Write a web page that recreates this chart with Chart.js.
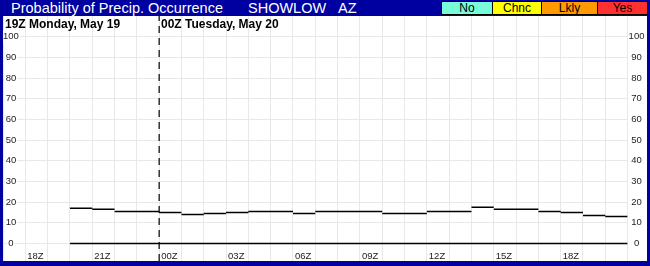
<!DOCTYPE html>
<html>
<head>
<meta charset="utf-8">
<script src="https://cdn.jsdelivr.net/npm/chart.js@4.4.1/dist/chart.umd.min.js"></script>
<style>
	body {
		margin: 0;
		width: 650px;
		height: 266px;
		background: #0000a0;
		position: relative;
		overflow: hidden;
		font-family: 'Liberation Sans', Arial, sans-serif;
	}
	.title {
		position: absolute;
		top: 0;
		height: 16px;
		line-height: 16px;
		color: #fff;
		font-size: 14.5px;
		white-space: pre;
	}
	#legend {
		position: absolute;
		left: 441px;
		top: 1px;
		display: flex;
		border: 1px solid #000;
		height: 12px;
	}
	#legend div {
		font-size: 12px;
		line-height: 12px;
		text-align: center;
		color: #000;
		border-left: 1px solid #000;
	}
	#legend div:first-child {
		border-left: none;
	}
	#plot {
		position: absolute;
		left: 3px;
		top: 16px;
		width: 644px;
		height: 245px;
		background: #fff;
	}
	#plot canvas {
		position: absolute;
		left: 0;
		top: 0;
	}
	.day {
		position: absolute;
		top: 1px;
		font-size: 12px;
		font-weight: bold;
		color: #000;
		white-space: pre;
	}
</style>
</head>
<body>
<div class="title" style="left:11px">Probability of Precip. Occurrence</div>
<div class="title" style="left:248px">SHOWLOW</div>
<div class="title" style="left:338px">AZ</div>
<div id="legend">
	<div style="width:50px;background:#77fbd8">No</div>
	<div style="width:48px;background:#ffff00">Chnc</div>
	<div style="width:55px;background:#ff9a00">Lkly</div>
	<div style="width:49px;background:#ff3030">Yes</div>
</div>
<div id="plot">
	<canvas id="popChart" width="644" height="245"></canvas>
	<div class="day" style="left:2px">19Z Monday, May 19</div>
	<div class="day" style="left:158px">00Z Tuesday, May 20</div>
</div>
<script>
	// hours relative to 00Z Tuesday, each value holds for one hour
	const hourOffsets = [-4, -3, -2, -1, 0, 1, 2, 3, 4, 5, 6, 7, 8, 9, 10, 11, 12, 13, 14, 15, 16, 17, 18, 19, 20];
	const popValues = [17, 16.5, 15.5, 15.5, 15, 14, 14.5, 15, 15.5, 15.5, 14.5, 15.5, 15.5, 15.5, 14.5, 14.5, 15.5, 15.5, 17.5, 16.5, 16.5, 15.5, 15, 13.5, 13];
	const xTickHours = [-6, -3, 0, 3, 6, 9, 12, 15, 18];
	const xTickLabels = ['18Z', '21Z', '00Z', '03Z', '06Z', '09Z', '12Z', '15Z', '18Z'];
	const yTicks = [0, 10, 20, 30, 40, 50, 60, 70, 80, 90, 100];
	const dayBreak = 0;

	const xMin = -7;
	const xMax = 21;
	const yMin = -8.5;
	const yMax = 110;
	const gridColor = '#e8e8e8';
	const tickFont = { family: "'Liberation Sans', Arial, sans-serif", size: 9.5 };

	const gridHours = [];
	for (let h = xMin; h <= xMax; h++) gridHours.push(h);

	// one flat segment per hour, separated by gaps
	const segments = [];
	hourOffsets.forEach(function (h, i) {
		segments.push({ x: h, y: popValues[i] }, { x: h + 1, y: popValues[i] }, { x: h + 1, y: null });
	});
	const lastHour = hourOffsets[hourOffsets.length - 1] + 1;
	const baseline = [{ x: hourOffsets[0], y: 0 }, { x: lastHour, y: 0 }];
	const dayLine = [{ x: dayBreak, y: yMin }, { x: dayBreak, y: yMax }];

	function setTicks(values) {
		return function (scale) {
			scale.ticks = values.map(v => ({ value: v }));
		};
	}

	function noPadding(scale) {
		scale.paddingTop = 0;
		scale.paddingBottom = 0;
		scale.paddingLeft = 0;
		scale.paddingRight = 0;
	}

	const config = {
		type: 'line',
		data: {
			datasets: [
				{
					data: segments,
					borderColor: '#000',
					borderWidth: 1.5,
					pointRadius: 0,
					spanGaps: false,
					fill: false,
				},
				{
					data: baseline,
					borderColor: '#000',
					borderWidth: 1.5,
					pointRadius: 0,
					fill: false,
				},
				{
					data: dayLine,
					borderColor: '#000',
					borderWidth: 1.2,
					borderDash: [7, 5],
					pointRadius: 0,
					fill: false,
				},
			],
		},
		options: {
			responsive: false,
			animation: false,
			devicePixelRatio: 1,
			layout: { padding: 0 },
			plugins: {
				legend: { display: false },
				tooltip: { enabled: false },
			},
			scales: {
				x: {
					type: 'linear',
					min: xMin,
					max: xMax,
					afterBuildTicks: setTicks(gridHours),
					grid: { color: gridColor, drawTicks: false },
					border: { display: false },
					ticks: { display: false },
					afterFit: noPadding,
				},
				xl: {
					type: 'linear',
					axis: 'x',
					min: xMin,
					max: xMax,
					position: { y: 0 },
					afterBuildTicks: setTicks(xTickHours),
					grid: { display: false, drawTicks: false },
					border: { display: false },
					ticks: {
						callback: (v, i) => xTickLabels[i],
						align: 'start',
						labelOffset: 2,
						padding: 7,
						maxRotation: 0,
						autoSkip: false,
						font: tickFont,
						color: '#222',
					},
					afterFit: noPadding,
				},
				y: {
					min: yMin,
					max: yMax,
					afterBuildTicks: setTicks(yTicks),
					grid: { color: gridColor, drawTicks: false },
					border: { display: false },
					ticks: {
						mirror: true,
						crossAlign: 'center',
						padding: 0,
						showLabelBackdrop: true,
						backdropColor: '#fff',
						backdropPadding: 1,
						font: tickFont,
						color: '#222',
					},
					afterFit: noPadding,
				},
				y2: {
					position: 'right',
					min: yMin,
					max: yMax,
					afterBuildTicks: setTicks(yTicks),
					grid: { display: false, drawTicks: false },
					border: { display: false },
					ticks: {
						crossAlign: 'center',
						padding: 1,
						font: tickFont,
						color: '#222',
					},
					afterFit: function (scale) {
						noPadding(scale);
						scale.width = 19.4;
					},
				},
			},
		},
	};
	new Chart(document.getElementById('popChart'), config);
</script>
</body>
</html>
